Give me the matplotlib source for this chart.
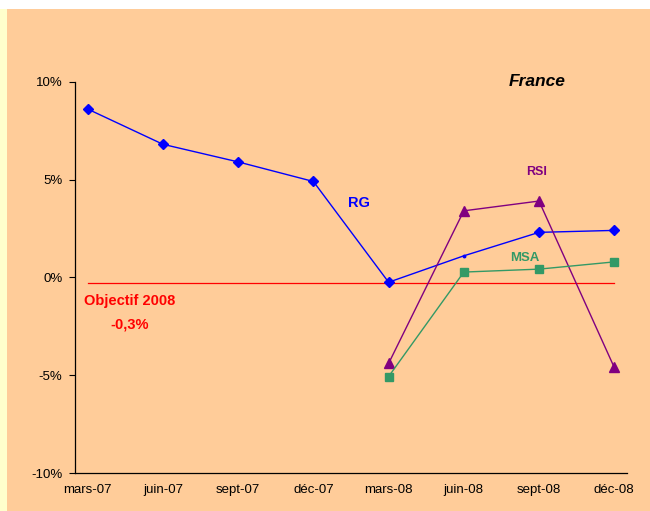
import matplotlib.pyplot as plt
from matplotlib.patches import Rectangle

plt.rcParams['font.family'] = ['Liberation Sans', 'DejaVu Sans']

# data (% change)
categories = ["mars-07", "juin-07", "sept-07", "déc-07", "mars-08", "juin-08", "sept-08", "déc-08"]
rg = [8.6, 6.8, 5.9, 4.9, -0.25, 1.1, 2.3, 2.4]
rsi = [None, None, None, None, -4.4, 3.4, 3.9, -4.6]
msa = [None, None, None, None, -5.07, 0.27, 0.42, 0.79]
objectif = -0.3
yticks = [-10, -5, 0, 5, 10]

W, H = 650, 511
fig = plt.figure(figsize=(W / 100, H / 100), dpi=100)
fig.patch.set_facecolor("white")
# pale strip on the left, orange panel for the rest
fig.patches.append(Rectangle((0, 0), 7 / W, (H - 9) / H, transform=fig.transFigure,
                             facecolor="#FFFFCC", edgecolor="none", zorder=-2))
fig.patches.append(Rectangle((7 / W, 0), 1 - 7 / W, (H - 9) / H, transform=fig.transFigure,
                             facecolor="#FFCC99", edgecolor="none", zorder=-2))

ax = fig.add_axes([75 / W, 38 / H, 552 / W, 391.3 / H])
ax.set_facecolor("none")
ax.set_zorder(1)

x = list(range(len(categories)))


def pts(vals):
    xs = [i for i, v in zip(x, vals) if v is not None]
    ys = [v for v in vals if v is not None]
    return xs, ys


# objective line
ax.plot([x[0], x[-1]], [objectif, objectif], color="#FF0000", lw=0.9, zorder=2)

# RG: the juin-08 point is only a tiny dot
xs, ys = pts(rg)
ax.plot(xs, ys, color="#0000FF", lw=1.0, zorder=3)
big = [i for i in range(len(xs)) if categories[xs[i]] != "juin-08"]
ax.plot([xs[i] for i in big], [ys[i] for i in big], ls="none", marker="D",
        ms=5.5, color="#0000FF", zorder=4)
ax.plot([5], [rg[5]], ls="none", marker="o", ms=1.8, color="#0000FF", zorder=4)

xs, ys = pts(rsi)
ax.plot(xs, ys, color="#800080", lw=1.0, marker="^", ms=6.5, zorder=3)

xs, ys = pts(msa)
ax.plot(xs, ys, color="#339966", lw=1.0, marker="s", ms=5.5, zorder=3)

ax.set_xlim(-0.17, 7.17)
ax.set_ylim(-10, 10)
ax.set_yticks(yticks)
ax.set_yticklabels([f"{t}%" for t in yticks], fontsize=9.5)
ax.set_xticks(x)
ax.set_xticklabels(categories, fontsize=9.5)
ax.tick_params(axis="x", length=0, pad=8)
ax.tick_params(axis="y", direction="out", length=4, width=0.8, pad=5)
for s in ["top", "right"]:
    ax.spines[s].set_visible(False)
for s in ["left", "bottom"]:
    ax.spines[s].set_linewidth(0.9)

# annotations
ax.text(3.6, 3.8, "RG", color="#0000FF", fontsize=10.5, fontweight="bold", ha="center", va="center")
ax.text(5.97, 5.4, "RSI", color="#800080", fontsize=9, fontweight="bold", ha="center", va="center")
ax.text(5.81, 1.0, "MSA", color="#339966", fontsize=9.5, fontweight="bold", ha="center", va="center")
ax.text(5.98, 10.0, "France", color="black", fontsize=12.5, fontweight="bold", style="italic",
        ha="center", va="center")
ax.text(0.55, -1.2, "Objectif 2008", color="#FF0000", fontsize=10.5, fontweight="bold", ha="center", va="center")
ax.text(0.55, -2.4, "-0,3%", color="#FF0000", fontsize=10.5, fontweight="bold", ha="center", va="center")

fig.savefig("out.png", dpi=100)
